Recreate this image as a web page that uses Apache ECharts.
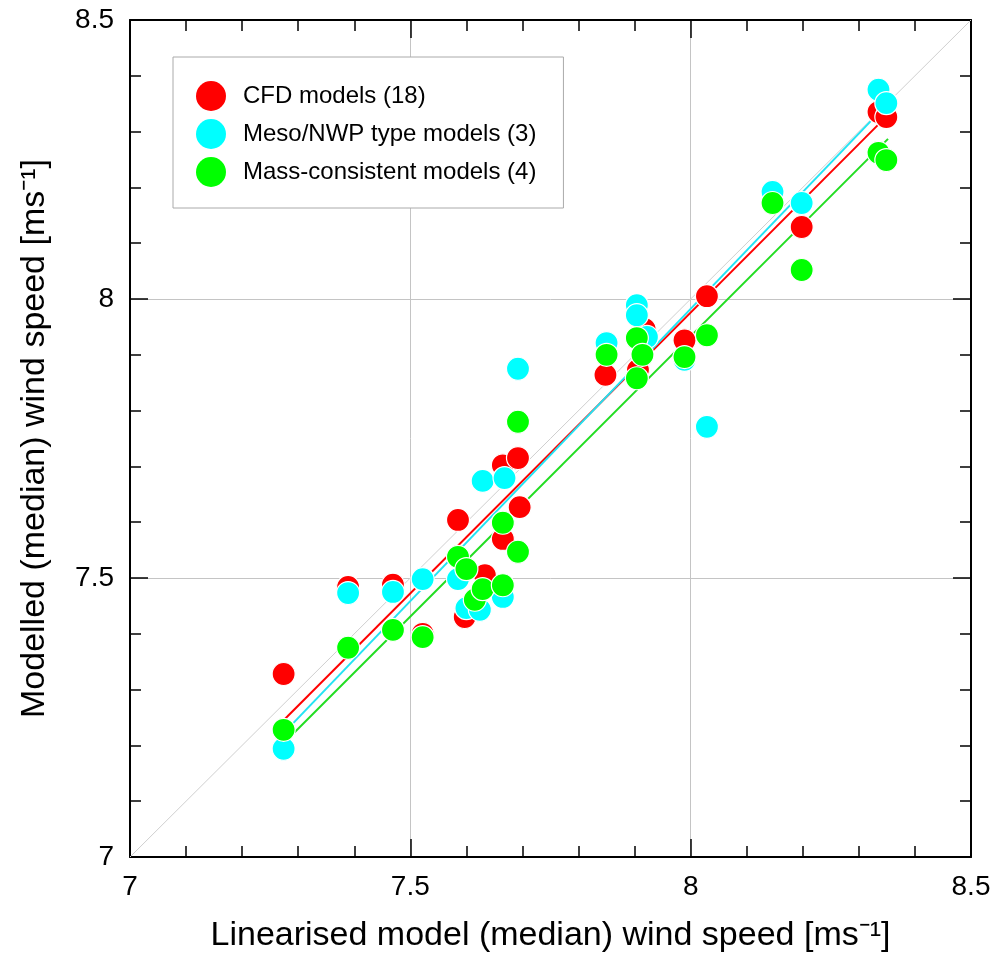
<!DOCTYPE html>
<html>
<head>
<meta charset="utf-8">
<title>Modelled vs linearised wind speed</title>
<script src="https://cdn.jsdelivr.net/npm/echarts@6/dist/echarts.min.js"></script>
<style>
  html, body { margin: 0; padding: 0; background: #ffffff; }
  #chart { width: 997px; height: 963px; }
</style>
</head>
<body>
<div id="chart"></div>
<script>
// Median wind speed: linearised model (x) against each model class (y), m/s
const cfdPoints = [
  [7.274, 7.328], [7.389, 7.484], [7.469, 7.488], [7.522, 7.400],
  [7.585, 7.604], [7.597, 7.430], [7.633, 7.505], [7.665, 7.702],
  [7.665, 7.570], [7.692, 7.715], [7.695, 7.627], [7.848, 7.864],
  [7.906, 7.873], [7.918, 7.946], [7.989, 7.926], [8.029, 8.005],
  [8.198, 8.129], [8.335, 8.335], [8.349, 8.326]
];
const mesoPoints = [
  [7.274, 7.194], [7.389, 7.473], [7.469, 7.475], [7.522, 7.498],
  [7.585, 7.498], [7.600, 7.446], [7.624, 7.443], [7.629, 7.674],
  [7.668, 7.679], [7.665, 7.466], [7.692, 7.875], [7.850, 7.921],
  [7.904, 7.989], [7.904, 7.971], [7.922, 7.932], [7.989, 7.891],
  [8.029, 7.771], [8.146, 8.192], [8.198, 8.172], [8.335, 8.375],
  [8.349, 8.351]
];
const massPoints = [
  [7.274, 7.228], [7.389, 7.375], [7.469, 7.407], [7.522, 7.394],
  [7.585, 7.538], [7.600, 7.516], [7.615, 7.461], [7.629, 7.480],
  [7.665, 7.599], [7.665, 7.487], [7.692, 7.780], [7.692, 7.547],
  [7.850, 7.900], [7.904, 7.930], [7.914, 7.900], [7.904, 7.858],
  [7.989, 7.896], [8.029, 7.935], [8.146, 8.172], [8.198, 8.052],
  [8.335, 8.262], [8.349, 8.249]
];

// Least-squares fit lines (end points) and the 1:1 reference line
const cfdFit = [[7.274, 7.245], [8.352, 8.330]];
const mesoFit = [[7.274, 7.222], [8.352, 8.351]];
const massFit = [[7.274, 7.204], [8.352, 8.287]];
const identityLine = [[7.0, 7.0], [8.5, 8.5]];

const seriesNames = ['CFD models (18)', 'Meso/NWP type models (3)', 'Mass-consistent models (4)'];
const axisMin = 7.0;
const axisMax = 8.5;
const axisStep = 0.5;

const RED = '#ff0000';
const CYAN = '#00ffff';
const GREEN = '#00ff00';
const FONT = '"Liberation Sans", Arial, sans-serif';

function frameAxis(position, showLabels, extra) {
  return Object.assign({
    type: 'value',
    min: axisMin,
    max: axisMax,
    interval: axisStep,
    position: position,
    axisLine: { show: true, onZero: false, lineStyle: { color: '#000', width: 2 } },
    axisTick: { show: true, inside: true, length: 18, lineStyle: { color: '#000', width: 1.5 } },
    minorTick: { show: true, splitNumber: 5, length: 11, lineStyle: { color: '#000', width: 1.5 } },
    axisLabel: {
      show: showLabels, fontFamily: FONT, fontSize: 28, color: '#000', margin: 16,
      showMinLabel: true, showMaxLabel: true
    },
    splitLine: { show: false },
    minorSplitLine: { show: false }
  }, extra || {});
}

const chart = echarts.init(document.getElementById('chart'), null, { renderer: 'canvas' });

function fitLine(data, color) {
  return {
    type: 'line', data: data, xAxisIndex: 0, yAxisIndex: 0,
    symbol: 'none', silent: true, z: 2,
    lineStyle: { color: color, width: 2 }
  };
}

function scatter(name, data, color, z) {
  return {
    name: name, type: 'scatter', data: data, xAxisIndex: 0, yAxisIndex: 0,
    symbol: 'circle', symbolSize: 23, z: z,
    itemStyle: { color: color, borderColor: '#ffffff', borderWidth: 1.2, opacity: 1 },
    emphasis: { disabled: true }
  };
}

chart.setOption({
  animation: false,
  backgroundColor: '#ffffff',
  grid: { left: 130, right: 26, top: 20, bottom: 106, containLabel: false },
  legend: {
    data: seriesNames,
    orient: 'vertical',
    left: 173,
    top: 57,
    padding: [24, 27, 21, 23],
    itemGap: 8,
    itemWidth: 30,
    itemHeight: 30,
    icon: 'circle',
    backgroundColor: '#ffffff',
    borderColor: '#aaaaaa',
    borderWidth: 1,
    itemStyle: { borderWidth: 0 },
    textStyle: { fontFamily: FONT, fontSize: 24, color: '#000', padding: [0, 0, 0, 12] }
  },
  xAxis: [
    frameAxis('bottom', true, {
      name: 'Linearised model (median) wind speed [ms⁻¹]',
      nameLocation: 'middle',
      nameGap: 62,
      nameTextStyle: { fontFamily: FONT, fontSize: 34, color: '#000' },
      splitLine: { show: true, lineStyle: { color: '#c4c4c4', width: 1 } }
    }),
    frameAxis('top', false)
  ],
  yAxis: [
    frameAxis('left', true, {
      name: 'Modelled (median) wind speed [ms⁻¹]',
      nameLocation: 'middle',
      nameGap: 78,
      nameTextStyle: { fontFamily: FONT, fontSize: 34, color: '#000' },
      splitLine: { show: true, lineStyle: { color: '#c4c4c4', width: 1 } }
    }),
    frameAxis('right', false)
  ],
  series: [
    {
      type: 'line', data: identityLine, symbol: 'none', silent: true, z: 1,
      lineStyle: { color: '#cfcfcf', width: 1 }
    },
    fitLine(cfdFit, RED),
    fitLine(mesoFit, '#22e4f4'),
    fitLine(massFit, '#22dd22'),
    scatter(seriesNames[0], cfdPoints, RED, 3),
    scatter(seriesNames[1], mesoPoints, CYAN, 4),
    scatter(seriesNames[2], massPoints, GREEN, 5)
  ]
});
</script>
</body>
</html>
